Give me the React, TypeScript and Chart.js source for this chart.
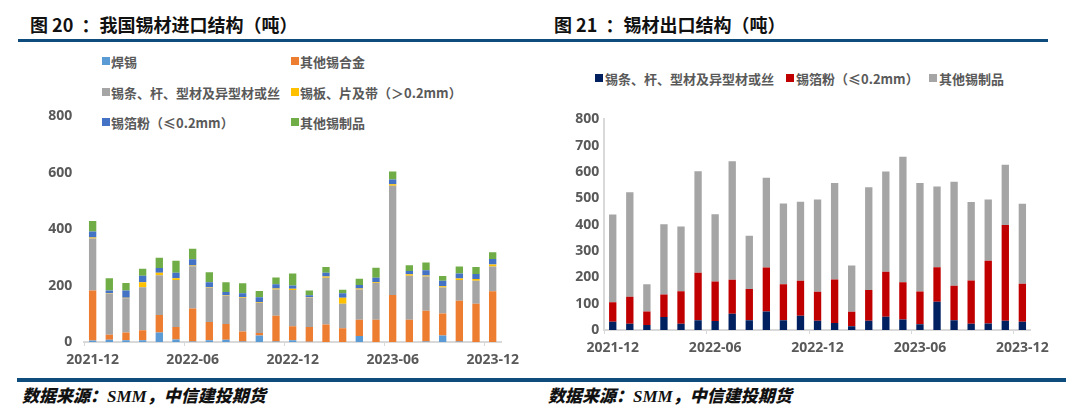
import React, { useEffect, useRef } from "react";
import { Chart, registerables } from "chart.js";

Chart.register(...registerables);

// ---------- data ----------
const months = [
  "2021-12", "2022-01", "2022-02", "2022-03", "2022-04", "2022-05", "2022-06",
  "2022-07", "2022-08", "2022-09", "2022-10", "2022-11", "2022-12",
  "2023-01", "2023-02", "2023-03", "2023-04", "2023-05", "2023-06",
  "2023-07", "2023-08", "2023-09", "2023-10", "2023-11", "2023-12",
];
const tickLabels = ["2021-12", "2022-06", "2022-12", "2023-06", "2023-12"];

// Figure 20: import structure (tons)
const impNames = ["焊锡", "其他锡合金", "锡条、杆、型材及异型材或丝", "锡板、片及带（＞0.2mm）", "锡箔粉（≤0.2mm）", "其他锡制品"];
const impColors = ["#5B9BD5", "#ED7D31", "#A5A5A5", "#FFC000", "#4472C4", "#70AD47"];
const impSolder = [5, 8, 6, 6, 34, 9, 2, 6, 8, 2, 23, 2, 6, 1, 0, 0, 21, 0, 0, 0, 2, 23, 2, 0, 0];
const impAlloy = [178, 18, 28, 36, 62, 44, 117, 65, 56, 35, 9, 91, 50, 52, 62, 49, 58, 79, 167, 79, 109, 78, 144, 136, 180];
const impBars = [184, 146, 121, 152, 141, 167, 150, 121, 100, 120, 107, 93, 128, 105, 166, 87, 107, 130, 387, 156, 121, 92, 74, 81, 88];
const impPlates = [4, 2, 2, 18, 9, 6, 2, 2, 2, 3, 3, 4, 5, 2, 4, 21, 4, 3, 5, 5, 4, 5, 5, 6, 7];
const impFoil = [21, 9, 26, 23, 16, 20, 22, 18, 11, 13, 17, 15, 11, 6, 14, 16, 12, 16, 17, 12, 18, 19, 18, 18, 19];
const impOther = [37, 43, 26, 25, 37, 42, 38, 35, 35, 35, 22, 24, 43, 17, 20, 12, 22, 35, 29, 20, 28, 17, 25, 25, 24];
const impSeries = [impSolder, impAlloy, impBars, impPlates, impFoil, impOther];
const impTicks = { min: 0, max: 800, step: 200 };

// Figure 21: export structure (tons)
const expNames = ["锡条、杆、型材及异型材或丝", "锡箔粉（≤0.2mm）", "其他锡制品"];
const expColors = ["#002060", "#C00000", "#A5A5A5"];
const expBars = [31, 24, 19, 49, 24, 37, 34, 62, 37, 70, 37, 54, 35, 27, 14, 35, 50, 40, 22, 107, 37, 24, 25, 35, 31];
const expFoil = [74, 102, 51, 86, 123, 180, 150, 129, 119, 167, 137, 133, 110, 165, 55, 117, 171, 141, 124, 131, 131, 164, 238, 364, 145];
const expOther = [334, 397, 104, 267, 246, 386, 256, 450, 202, 341, 307, 300, 351, 366, 176, 390, 381, 477, 412, 307, 395, 298, 233, 229, 304];
const expSeries = [expBars, expFoil, expOther];
const expTicks = { min: 0, max: 800, step: 100 };

// ---------- styling ----------
const TICK_COLOR = "#595959";
const AXIS_COLOR = "#D9D9D9";
const LINE_COLOR = "#0E4C7E";
const FONT = "'Open Sans', 'Noto Sans CJK SC', sans-serif";
const CJK = "'Noto Sans CJK SC', 'Open Sans', sans-serif";

function makeConfig(
  names: string[],
  colors: string[],
  series: number[][],
  ticks: { min: number; max: number; step: number },
  opts: { yWidth: number; xHeight: number; padRight: number; yBorder: boolean; yPad: number; barPct: number }
): any {
  return {
    type: "bar",
    data: {
      labels: months,
      datasets: series.map((d, i) => ({
        label: names[i],
        data: d,
        backgroundColor: colors[i],
        borderWidth: 0,
        barPercentage: opts.barPct,
        categoryPercentage: 1,
      })),
    },
    options: {
      responsive: false,
      animation: false,
      devicePixelRatio: 1,
      layout: { padding: { top: 10, right: opts.padRight, left: 0, bottom: 0 } },
      plugins: { legend: { display: false }, tooltip: { enabled: false }, title: { display: false } },
      scales: {
        x: {
          stacked: true,
          offset: true,
          grid: {
            offset: true,
            drawOnChartArea: false,
            drawTicks: true,
            tickLength: 4,
            lineWidth: 1,
            color: (ctx: any) => (tickLabels.includes(months[ctx.index]) ? AXIS_COLOR : "rgba(0,0,0,0)"),
          },
          border: { display: true, color: AXIS_COLOR, width: 2 },
          ticks: {
            autoSkip: false,
            maxRotation: 0,
            minRotation: 0,
            padding: 6,
            color: TICK_COLOR,
            font: { family: FONT, size: 14, weight: "bold" },
            callback: (_v: any, i: number) => (tickLabels.includes(months[i]) ? months[i] : ""),
          },
          afterFit: (s: any) => {
            s.height = opts.xHeight;
          },
        },
        y: {
          stacked: true,
          min: ticks.min,
          max: ticks.max,
          grid: { display: false, drawTicks: false },
          border: { display: opts.yBorder, color: AXIS_COLOR, width: 2 },
          ticks: {
            stepSize: ticks.step,
            padding: opts.yPad,
            color: TICK_COLOR,
            font: { family: FONT, size: 14, weight: "bold" },
          },
          afterFit: (s: any) => {
            s.width = opts.yWidth;
          },
        },
      },
    },
  };
}

function ChartCanvas(props: { left: number; top: number; width: number; height: number; config: () => any }) {
  const ref = useRef<HTMLCanvasElement | null>(null);
  useEffect(() => {
    if (!ref.current) return;
    const chart = new Chart(ref.current, props.config());
    return () => chart.destroy();
  }, []);
  return (
    <canvas
      ref={ref}
      width={props.width}
      height={props.height}
      style={{ position: "absolute", left: props.left, top: props.top, width: props.width, height: props.height }}
    />
  );
}

function LegendItem(props: { x: number; y: number; color: string; text: string; gap: number }) {
  return (
    <div
      style={{
        position: "absolute",
        left: props.x,
        top: props.y - 9,
        height: 18,
        display: "flex",
        alignItems: "center",
        whiteSpace: "nowrap",
        fontFamily: CJK,
        fontWeight: "bold",
        fontSize: 13,
        color: TICK_COLOR,
      }}
    >
      <span style={{ display: "inline-block", width: 8, height: 8, background: props.color, marginRight: props.gap }} />
      <span>{props.text}</span>
    </div>
  );
}

const titleStyle: React.CSSProperties = {
  position: "absolute",
  top: 14,
  lineHeight: "20px",
  fontSize: 18,
  fontWeight: "bold",
  fontFamily: CJK,
  color: "#111",
  whiteSpace: "pre",
};

const sourceStyle: React.CSSProperties = {
  position: "absolute",
  top: 387,
  lineHeight: "20px",
  fontSize: 17,
  fontWeight: 900,
  fontStyle: "italic",
  fontFamily: "'Liberation Serif', 'Noto Sans CJK SC', serif",
  color: "#111",
  whiteSpace: "nowrap",
};

export default function App() {
  const impLegendPos = [
    [102, 61], [291, 61],
    [102, 92], [291, 92],
    [102, 122], [291, 122],
  ];
  const expLegendPos = [[595, 78], [786, 78], [929, 78]];
  return (
    <div
      style={{
        position: "absolute",
        left: 0,
        top: 0,
        width: 1080,
        height: 411,
        background: "#fff",
        overflow: "hidden",
      }}
    >
      <div style={{ ...titleStyle, left: 30 }}>图 20  ：我国锡材进口结构（吨）</div>
      <div style={{ ...titleStyle, left: 554 }}>图 21  ：锡材出口结构（吨）</div>
      <div style={{ position: "absolute", left: 18, top: 39, width: 1030, height: 3, background: LINE_COLOR }} />
      <div style={{ position: "absolute", left: 17, top: 378, width: 1049, height: 4, background: LINE_COLOR }} />
      <div style={{ ...sourceStyle, left: 22 }}>数据来源：SMM，中信建投期货</div>
      <div style={{ ...sourceStyle, left: 548 }}>数据来源：SMM，中信建投期货</div>

      {impNames.map((n, i) => (
        <LegendItem key={"i" + i} x={impLegendPos[i][0]} y={impLegendPos[i][1]} color={impColors[i]} text={n} gap={1} />
      ))}
      {expNames.map((n, i) => (
        <LegendItem key={"e" + i} x={expLegendPos[i][0]} y={expLegendPos[i][1]} color={expColors[i]} text={n} gap={2} />
      ))}

      <ChartCanvas
        left={30}
        top={96}
        width={500}
        height={290}
        config={() =>
          makeConfig(impNames, impColors, impSeries, impTicks, {
            yWidth: 54.3,
            xHeight: 44,
            padRight: 29,
            yBorder: false,
            yPad: 12,
            barPct: 0.44,
          })
        }
      />
      <ChartCanvas
        left={550}
        top={106}
        width={520}
        height={270}
        config={() =>
          makeConfig(expNames, expColors, expSeries, expTicks, {
            yWidth: 54.2,
            xHeight: 46,
            padRight: 39.1,
            yBorder: true,
            yPad: 5,
            barPct: 0.43,
          })
        }
      />
    </div>
  );
}
